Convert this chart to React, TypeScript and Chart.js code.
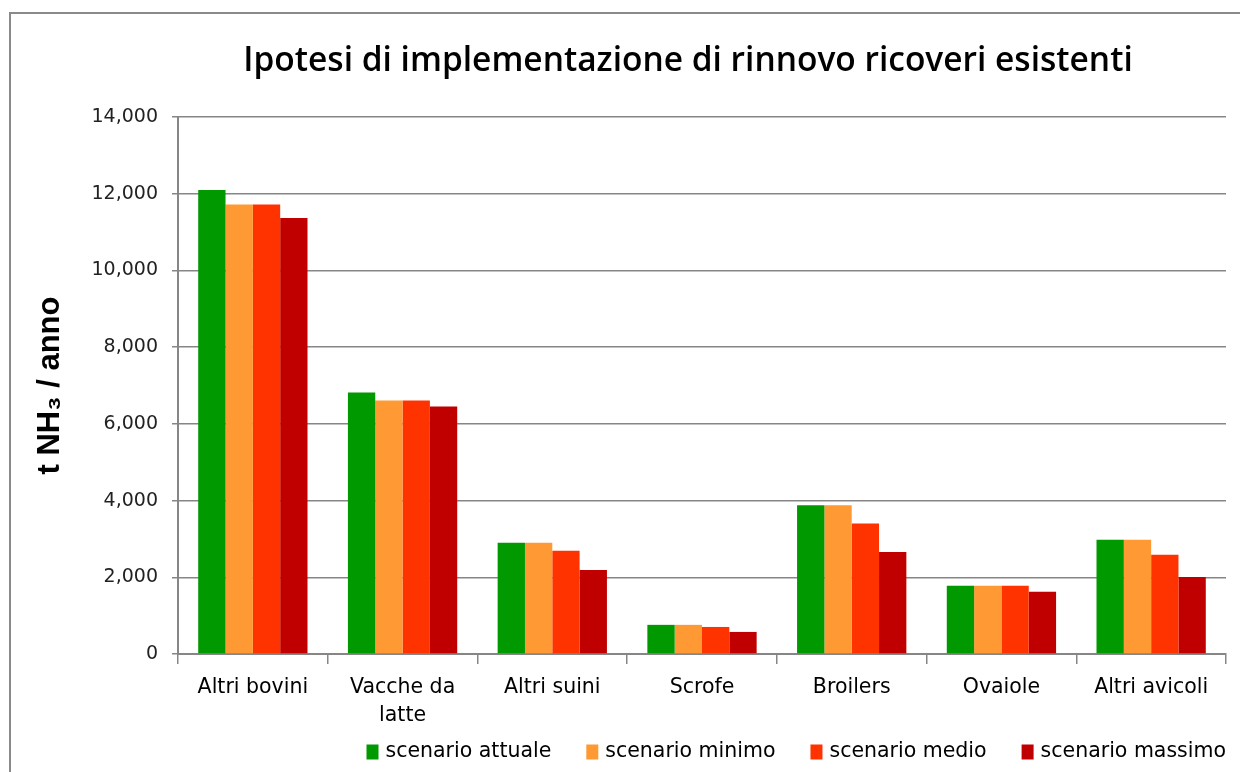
import React, { useEffect, useRef } from 'react';
import { Chart, registerables } from 'chart.js';

Chart.register(...registerables);

const titleText = 'Ipotesi di implementazione di rinnovo ricoveri esistenti';
const yAxisTitle = 't NH\u2083 / anno';

const categories: (string | string[])[] = [
  'Altri bovini',
  ['Vacche da', 'latte'],
  'Altri suini',
  'Scrofe',
  'Broilers',
  'Ovaiole',
  'Altri avicoli',
];

const seriesNames = ['scenario attuale', 'scenario minimo', 'scenario medio', 'scenario massimo'];
const seriesColors = ['#009900', '#FF9933', '#FF3300', '#C00000'];

const scenarioAttuale = [12100, 6820, 2900, 760, 3880, 1780, 2980];
const scenarioMinimo = [11720, 6610, 2900, 760, 3880, 1780, 2980];
const scenarioMedio = [11720, 6610, 2690, 705, 3400, 1780, 2585];
const scenarioMassimo = [11370, 6450, 2190, 575, 2660, 1620, 2010];

const yMin = 0;
const yMax = 14000;
const yStep = 2000;

const titlePlugin = {
  id: 'customTitle',
  afterDraw(chart: any) {
    const ctx = chart.ctx;
    ctx.save();
    ctx.font = '600 33.5px "Open Sans", "Noto Sans", sans-serif';
    ctx.fillStyle = '#000000';
    ctx.textAlign = 'center';
    ctx.textBaseline = 'alphabetic';
    ctx.fillText(titleText, 688, 71);
    ctx.restore();
  },
};

// Legend drawn at the bottom right, from the chart's own dataset labels and colours
const bottomLegend = {
  id: 'bottomLegend',
  afterDraw(chart: any) {
    const ctx = chart.ctx;
    const ds = chart.data.datasets;
    const font = '20.5px "DejaVu Sans", sans-serif';
    const boxW = 12;
    const boxH = 15;
    const textGap = 7;
    const itemGap = 35;
    const right = chart.chartArea.right;
    const cy = 752;
    ctx.save();
    ctx.font = font;
    const widths = ds.map((d: any) => ctx.measureText(d.label).width);
    const total =
      widths.reduce((a: number, w: number) => a + w + boxW + textGap, 0) + itemGap * (ds.length - 1);
    let x = right - total;
    ds.forEach((d: any, i: number) => {
      ctx.fillStyle = d.backgroundColor;
      ctx.fillRect(x, cy - boxH / 2, boxW, boxH);
      x += boxW + textGap;
      ctx.fillStyle = '#000000';
      ctx.textAlign = 'left';
      ctx.textBaseline = 'middle';
      ctx.fillText(d.label, x, cy);
      x += widths[i] + itemGap;
    });
    ctx.restore();
  },
};

export default function App() {
  const ref = useRef<HTMLCanvasElement | null>(null);

  useEffect(() => {
    if (!ref.current) return;
    const data = [scenarioAttuale, scenarioMinimo, scenarioMedio, scenarioMassimo];
    const chart = new Chart(ref.current, {
      type: 'bar',
      data: {
        labels: categories,
        datasets: seriesNames.map((name, i) => ({
          label: name,
          data: data[i],
          backgroundColor: seriesColors[i],
          borderWidth: 0,
          categoryPercentage: 0.73,
          barPercentage: 1.0,
        })),
      },
      options: {
        responsive: false,
        animation: false,
        layout: { padding: { top: 117, right: 14, left: 0, bottom: 0 } },
        plugins: {
          title: { display: false },
          tooltip: { enabled: false },
          legend: { display: false },
        },
        scales: {
          x: {
            afterFit: (s: any) => {
              s.height = 118;
            },
            grid: {
              display: true,
              drawOnChartArea: false,
              drawTicks: true,
              tickLength: 10,
              color: '#868686',
              lineWidth: 1.5,
              offset: true,
            },
            border: { display: true, color: '#868686', width: 2 },
            ticks: {
              color: '#000000',
              padding: 9,
              maxRotation: 0,
              autoSkip: false,
              font: { family: '"DejaVu Sans", sans-serif', size: 20.5, lineHeight: 1.4 },
            },
          },
          y: {
            min: yMin,
            max: yMax,
            afterFit: (s: any) => {
              s.width = 178;
            },
            ticks: {
              stepSize: yStep,
              color: '#222222',
              padding: 14,
              font: { family: '"DejaVu Sans", sans-serif', size: 19 },
              callback: (v: any) => Number(v).toLocaleString('en-US'),
            },
            grid: {
              color: '#868686',
              lineWidth: 1.5,
              tickLength: 6,
            },
            border: { display: true, color: '#868686', width: 2 },
            title: {
              display: true,
              text: yAxisTitle,
              color: '#000000',
              padding: { top: 32, bottom: 0 },
              font: { family: '"Liberation Sans", Arial, sans-serif', size: 31, weight: 'bold' },
            },
          },
        },
      },
      plugins: [titlePlugin, bottomLegend],
    });
    return () => chart.destroy();
  }, []);

  return (
    <div
      style={{
        position: 'fixed',
        left: 0,
        top: 0,
        width: 1240,
        height: 772,
        overflow: 'hidden',
        background: '#ffffff',
      }}
    >
      <div
        style={{
          position: 'absolute',
          left: 9,
          top: 12,
          width: 1260,
          height: 800,
          border: '2px solid #8a8a8a',
          boxSizing: 'border-box',
        }}
      />
      <canvas
        ref={ref}
        width={1240}
        height={772}
        style={{ position: 'absolute', left: 0, top: 0, width: 1240, height: 772 }}
      />
    </div>
  );
}
